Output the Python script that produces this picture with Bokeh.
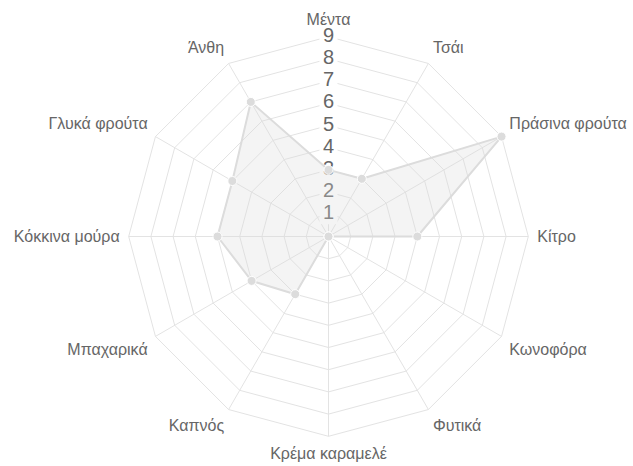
import math
from bokeh.plotting import figure
from bokeh.models import Range1d, ColumnDataSource
from bokeh.embed import file_html
from bokeh.resources import INLINE
from bokeh.core.properties import value

# ---- data ----
categories = ["Μέντα", "Τσάι", "Πράσινα φρούτα", "Κίτρο", "Κωνοφόρα", "Φυτικά",
              "Κρέμα καραμελέ", "Καπνός", "Μπαχαρικά", "Κόκκινα μούρα",
              "Γλυκά φρούτα", "Άνθη"]
scores = [3, 3, 9, 4, 0, 0, 0, 3, 4, 5, 5, 7]
tick_values = [1, 2, 3, 4, 5, 6, 7, 8, 9]
tick_labels = ["1", "2", "3", "4", "5", "6", "7", "8", "9"]
scale_max = 9

# ---- layout ----
W, H = 633, 466
CX, CY = 328, 236          # centre in figure pixels (from left / from top)
PX = 22.2                  # pixels per unit
FONT = value("Liberation Sans")
GRID = "#e3e3e3"
TEXT = "#666666"
DATA = "#dcdcdc"

n = len(categories)
angles = [2 * math.pi * i / n for i in range(n)]
sx = [math.sin(a) for a in angles]
sy = [math.cos(a) for a in angles]

p = figure(width=W, height=H,
           x_range=Range1d(-CX / PX, (W - CX) / PX),
           y_range=Range1d(-(H - CY) / PX, CY / PX),
           output_backend="svg", toolbar_location=None, min_border=0,
           x_axis_location=None, y_axis_location=None)
p.grid.visible = False
p.outline_line_color = None
p.background_fill_color = "white"
p.border_fill_color = "white"

# rings
ring_xs = [[v * sx[i % n] for i in range(n + 1)] for v in tick_values]
ring_ys = [[v * sy[i % n] for i in range(n + 1)] for v in tick_values]
p.multi_line(ring_xs, ring_ys, line_color=GRID, line_width=1)
# spokes
p.multi_line([[0, scale_max * sx[i]] for i in range(n)],
             [[0, scale_max * sy[i]] for i in range(n)],
             line_color=GRID, line_width=1)

# tick label backdrops and labels
off = 2
p.rect(x=[0] * len(tick_values), y=[v + off / PX for v in tick_values],
       width=18, height=24, width_units="screen", height_units="screen",
       fill_color="white", line_color=None)
p.text(x=[0] * len(tick_values), y=tick_values, text=tick_labels,
       text_align="center", text_baseline="middle", y_offset=-off,
       text_font=FONT, text_font_size="20px", text_color=TEXT)

# data
dx = [s * c for s, c in zip(scores, sx)]
dy = [s * c for s, c in zip(scores, sy)]
p.patch(dx, dy, fill_color=DATA, fill_alpha=0.3, line_color=None)
p.line(dx + dx[:1], dy + dy[:1], line_color=DATA, line_width=2)
p.scatter(dx, dy, size=9, fill_color=DATA, line_color="white", line_width=1)

# category labels
lab_r = scale_max + 9 / PX
aligns, bases = [], []
for i in range(n):
    deg = round(360 * i / n)
    if deg in (0, 180):
        aligns.append("center")
    elif deg < 180:
        aligns.append("left")
    else:
        aligns.append("right")
    if deg in (90, 270):
        bases.append("middle")
    elif deg < 90 or deg > 270:
        bases.append("bottom")
    else:
        bases.append("top")
src = ColumnDataSource(dict(x=[lab_r * s for s in sx], y=[lab_r * c for c in sy],
                            text=categories, align=aligns, base=bases))
p.text(x="x", y="y", text="text", source=src, text_align="align",
       text_baseline="base", text_font=FONT, text_font_size="16px",
       text_color=TEXT)

open("out.html", "w").write(file_html(p, INLINE))
